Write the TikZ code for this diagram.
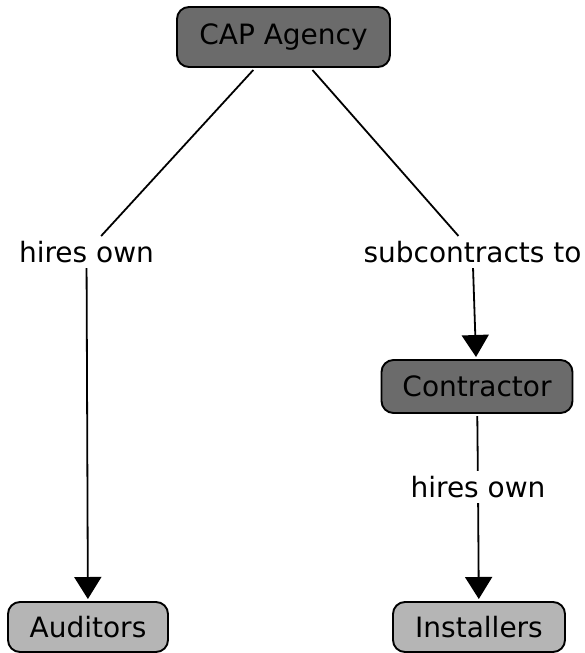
\documentclass[tikz,border=0pt]{standalone}
\usepackage{fontspec}
\setmainfont{DejaVu Sans}
\usepackage{xcolor}
\usetikzlibrary{arrows.meta, positioning}

\definecolor{darkconcept}{gray}{0.42}
\definecolor{lightconcept}{gray}{0.71}

\begin{document}
\begin{tikzpicture}[
            x=1pt, y=-1pt,
            concept/.style={rectangle, draw, line width=1.9pt, rounded corners=12pt, outer sep=3pt, font=\fontsize{28}{33}\selectfont, align=center},
            linkword/.style={inner sep=5pt, font=\fontsize{28}{33}\selectfont},
            link/.style={line width=1.8pt},
            linkarrow/.style={line width=1.8pt, -{Triangle[width=27pt, length=22pt]}}
        ]
            \useasboundingbox (0,0) rectangle (585,653);
            \node[concept, fill=darkconcept, minimum width=213pt, minimum height=60pt] (agency) at (283.5,37) {CAP Agency};
            \node[linkword] (hiresaud) at (86.5,252) {hires own};
            \node[linkword] (subcon) at (472.5,252) {subcontracts to};
            \node[concept, fill=darkconcept, minimum width=191pt, minimum height=53pt] (contractor) at (477,386.5) {Contractor};
            \node[linkword] (hiresinst) at (478,487) {hires own};
            \node[concept, fill=lightconcept, minimum width=160pt, minimum height=50pt] (auditors) at (88,627) {Auditors};
            \node[concept, fill=lightconcept, minimum width=172pt, minimum height=50pt] (installers) at (479,627) {Installers};
            \draw[link] (agency) -- (hiresaud);
            \draw[linkarrow] (hiresaud) -- (auditors);
            \draw[link] (agency) -- (subcon);
            \draw[linkarrow] (subcon) -- (contractor);
            \draw[link] (contractor) -- (hiresinst);
            \draw[linkarrow] (hiresinst) -- (installers);
        \end{tikzpicture}
\end{document}
